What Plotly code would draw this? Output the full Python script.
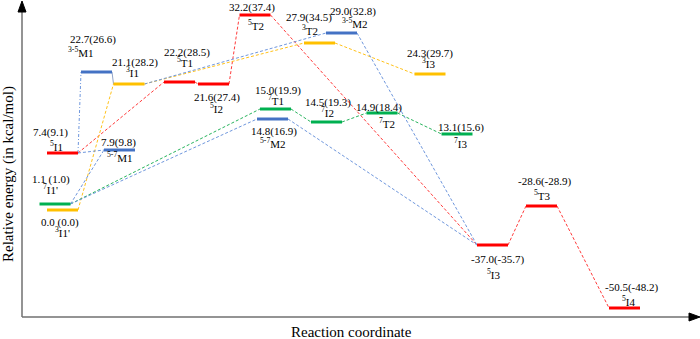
import plotly.graph_objects as go

# ---- data ----
level_names = ["<sup>5</sup>I1", "<sup>5-7</sup>M1", "<sup>3-5</sup>M1", "<sup>3</sup>I1", "<sup>5</sup>T1",
               "<sup>5</sup>I2", "<sup>5</sup>T2", "<sup>7</sup>I1'", "<sup>3</sup>I1'", "<sup>3</sup>T2",
               "<sup>3-5</sup>M2", "<sup>3</sup>I3", "<sup>7</sup>T1", "<sup>5-7</sup>M2", "<sup>7</sup>I2",
               "<sup>7</sup>T2", "<sup>7</sup>I3", "<sup>5</sup>I3", "<sup>5</sup>T3", "<sup>5</sup>I4"]
energy_labels = ["7.4(9.1)", "7.9(9.8)", "22.7(26.6)", "21.1(28.2)", "22.2(28.5)",
                 "21.6(27.4)", "32.2(37.4)", "1.1 (1.0)", "0.0 (0.0)", "27.9(34.5)",
                 "29.0(32.8)", "24.3(29.7)", "15.0(19.9)", "14.8(16.9)", "14.5(19.3)",
                 "14.9(18.4)", "13.1(15.6)", "-37.0(-35.7)", "-28.6(-28.9)", "-50.5(-48.2)"]
# reaction-coordinate position of each level and its drawn height in the (schematic) diagram
reaction_pos = [40.5, 97.5, 74.5, 107, 157.5, 191.5, 233, 33, 40.5, 297.5,
                319.5, 408, 253.5, 250.5, 304.5, 360, 435, 470.5, 519.5, 602.5]
diagram_level = [164, 167, 245, 233, 235, 233, 302, 113, 107, 274,
                 284, 243, 208, 198, 195, 204, 183, 72, 111, 9]
spin_group = ["red", "blue", "blue", "yellow", "red", "red", "red", "green", "yellow", "yellow",
              "blue", "yellow", "green", "blue", "green", "green", "green", "red", "red", "red"]

# pathway connections (from level index -> to level index)
links_from = [0, 4, 5, 6, 17, 18, 8, 3, 9, 7, 12, 14, 15, 0, 2, 0, 7, 7, 3, 13, 10]
links_to =   [4, 5, 6, 17, 18, 19, 3, 9, 11, 12, 14, 15, 16, 2, 3, 1, 1, 13, 10, 17, 17]
links_group = ["red", "red", "red", "red", "red", "red", "yellow", "yellow", "yellow",
               "green", "green", "green", "green", "bluedot", "bluegray", "blue", "blue", "blue", "blue", "blue", "blue"]

# ---- styles ----
level_color = {"red": "#FF0000", "blue": "#4472C4", "yellow": "#FFC000", "green": "#00B050"}
link_color = {"red": "#FF3B3B", "blue": "#6F97DD", "bluedot": "#6F97DD", "yellow": "#FFC21A",
              "green": "#29B45E", "bluegray": "#8FA3C8"}
link_dash = {"red": "3px,2px", "blue": "3px,2px", "yellow": "3px,2px", "green": "3px,2px",
             "bluedot": "3px,2px,1px,2px", "bluegray": "solid"}
HALF_W = 15.5
FONT = "Times New Roman, Liberation Serif, serif"

# label offsets in pixels (dx, dy; dy positive = down) : value line, name line
val_off = [(-12, -21), (-1, -8), (-4, -33), (6, -22), (7, -30), (3.5, 13), (-3, -8), (-4.5, -25),
           (-3, 12), (-10.5, -26), (11.5, -22), (0, -21), (2.5, -19), (1, 12), (1.5, -20),
           (-3.5, -6), (4, -7), (5, 14), (3, -25), (7, -21)]
name_off = [(-6.5, -7), (0.5, 7), (-15.5, -20), (3, -12.5), (5.5, -20), (2.5, 24), (1, 10), (-4.5, -15),
            (-0.5, 22), (-9.5, -13), (13.5, -10), (-1, -11), (0.5, -9), (0.5, 24), (0.5, -10),
            (5, 10), (4, 9), (1.5, 29), (0.5, -11), (4.5, -7)]

fig = go.Figure()

# connectors
for a, b, g in zip(links_from, links_to, links_group):
    fig.add_trace(go.Scatter(
        x=[reaction_pos[a] + HALF_W, reaction_pos[b] - HALF_W],
        y=[diagram_level[a], diagram_level[b]],
        mode="lines", line=dict(color=link_color[g], width=1, dash=link_dash[g]),
        hoverinfo="skip", showlegend=False))

# levels
for xc, yl, g in zip(reaction_pos, diagram_level, spin_group):
    fig.add_trace(go.Scatter(
        x=[xc - HALF_W, xc + HALF_W], y=[yl, yl], mode="lines",
        line=dict(color=level_color[g], width=3), hoverinfo="skip", showlegend=False))

# axis units equal screen pixels, so pixel offsets can be added directly
annotations = []
for i in range(len(level_names)):
    for txt, (dx, dy) in ((energy_labels[i], val_off[i]), (level_names[i], name_off[i])):
        annotations.append(dict(
            x=reaction_pos[i] + dx, y=diagram_level[i] - dy, xref="x", yref="y", text=txt,
            showarrow=False, xanchor="center", yanchor="middle",
            font=dict(family=FONT, size=11, color="black")))

annotations.append(dict(x=-14, y=143, xref="x", yref="y", text="Relative energy (in kcal/mol)",
                        textangle=-90, showarrow=False, font=dict(family=FONT, size=15, color="black")))
annotations.append(dict(x=329.5, y=-15, xref="x", yref="y", text="Reaction coordinate",
                        showarrow=False, font=dict(family=FONT, size=15, color="black")))

shapes = [
    dict(type="line", xref="x", yref="y", x0=0, y0=0, x1=0, y1=306, line=dict(color="#707070", width=1.5)),
    dict(type="line", xref="x", yref="y", x0=0, y0=0, x1=668, y1=0, line=dict(color="#707070", width=1.5)),
    dict(type="path", xref="x", yref="y", path="M -4,305 L 0,316 L 4,305 Z",
         fillcolor="black", line=dict(color="black", width=1)),
    dict(type="path", xref="x", yref="y", path="M 667,4 L 678,0 L 667,-4 Z",
         fillcolor="black", line=dict(color="black", width=1)),
]

fig.update_layout(
    width=700, height=339, margin=dict(l=0, r=0, t=0, b=0),
    paper_bgcolor="white", plot_bgcolor="white", showlegend=False,
    xaxis=dict(range=[-22, 678], visible=False, fixedrange=True),
    yaxis=dict(range=[-22, 317], visible=False, fixedrange=True),
    annotations=annotations, shapes=shapes,
)

fig.write_html("out.html", config={"displayModeBar": False},
               post_script="document.body.style.margin='0px';document.body.style.overflow='hidden';")
